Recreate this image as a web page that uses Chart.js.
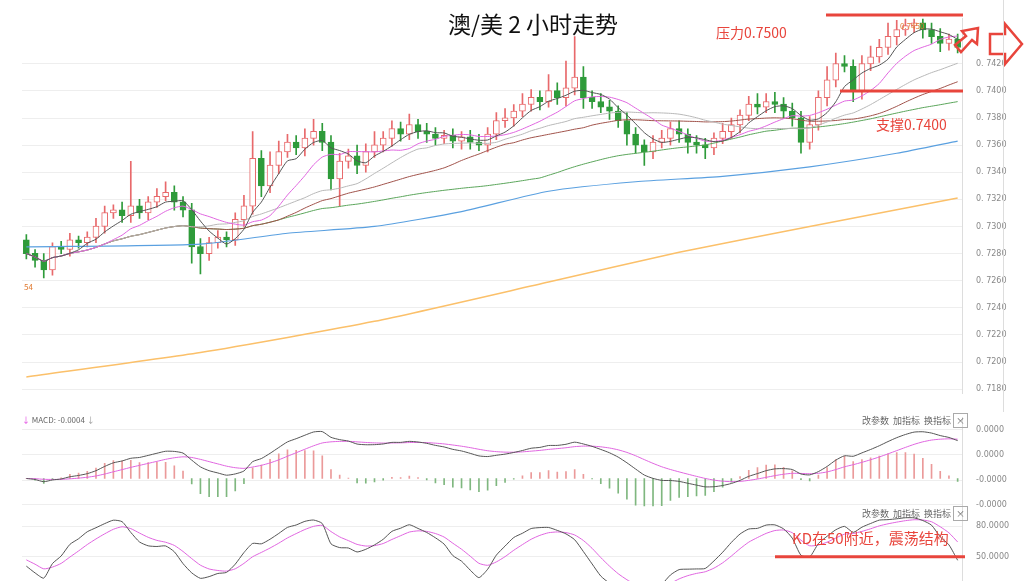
<!DOCTYPE html>
<html>
<head>
<meta charset="utf-8">
<script src="https://cdn.jsdelivr.net/npm/chart.js@4/dist/chart.umd.min.js"></script>
<style>
  body { margin: 0; background: #fff; font-family: "Noto Sans CJK SC", "Noto Sans", sans-serif; overflow: hidden; }
  .box { position: absolute; left: 0; width: 1024px; }
  #main { top: 0; height: 412px; }
  #macd { top: 399px; height: 126px; }
  #kd { top: 487px; height: 115px; }
  .t { position: absolute; white-space: nowrap; }
</style>
</head>
<body>
<div class="box" id="main"><canvas id="c1"></canvas></div>
<div class="box" id="macd"><canvas id="c2"></canvas></div>
<div class="box" id="kd"><canvas id="c3"></canvas></div>
<div class="t" style="left:448px;top:6px;font-size:23px;color:#111;">澳/美 2 小时走势</div>
<div class="t" style="left:716px;top:22px;font-size:14px;color:#e8453c;">压力0.7500</div>
<div class="t" style="left:876px;top:114px;font-size:14px;color:#e8453c;">支撑0.7400</div>
<div class="t" style="left:24px;top:281px;font-size:8px;color:#e07a30;">54</div>
<div class="t" style="left:900px;top:20px;font-size:8px;color:#e07a30;">0.7450</div>
<div class="t" style="left:22px;top:414px;font-size:8px;color:#666;"><span style="color:#e040e0">↓</span> MACD: -0.0004 <span style="color:#999">↓</span></div>
<div class="t" style="left:862px;top:414px;font-size:9px;color:#666;">改参数 &nbsp;加指标 &nbsp;换指标 <span style="border:1px solid #aaa;padding:0 2px;">×</span></div>
<div class="t" style="left:862px;top:507px;font-size:9px;color:#666;">改参数 &nbsp;加指标 &nbsp;换指标 <span style="border:1px solid #aaa;padding:0 2px;">×</span></div>
<div class="t" style="left:792px;top:527px;font-size:15px;color:#e8453c;">KD在50附近，震荡结构</div>
<script>
const closes = [
  0.7280,0.7275,0.7268,0.7285,0.7283,0.7290,0.7288,0.7292,0.7300,0.7310,0.7312,0.7308,
  0.7315,0.7310,0.7318,0.7322,0.7325,0.7318,0.7312,0.7285,0.7280,0.7288,0.7292,0.7290,
  0.7305,0.7315,0.7350,0.7330,0.7345,0.7355,0.7362,0.7358,0.7365,0.7370,0.7362,0.7335,
  0.7348,0.7352,0.7345,0.7355,0.7360,0.7365,0.7372,0.7368,0.7375,0.7370,0.7368,0.7365,
  0.7367,0.7363,0.7366,0.7362,0.7360,0.7368,0.7378,0.7380,0.7385,0.7390,0.7395,0.7392,
  0.7400,0.7395,0.7402,0.7410,0.7395,0.7392,0.7388,0.7385,0.7378,0.7368,0.7360,0.7355,
  0.7362,0.7365,0.7372,0.7368,0.7362,0.7360,0.7358,0.7365,0.7370,0.7375,0.7382,0.7390,
  0.7388,0.7392,0.7390,0.7385,0.7380,0.7362,0.7375,0.7395,0.7408,0.7420,0.7418,0.7400,
  0.7420,0.7425,0.7432,0.7440,0.7445,0.7448,0.7450,0.7445,0.7440,0.7435,0.7438,0.7432
];
const firstOpen = 0.7290;
// wick sizes in pips (0.0001)
const wickUp = [
  4,3,5,3,4,5,3,4,6,5,4,6, 33,5,4,6,8,5,4,5,6,4,5,4,
  5,8,20,6,10,8,6,5,7,9,6,5, 6,5,8,6,10,5,6,5,8,4,6,5,
  4,5,4,5,6,5,6,7,5,8,6,5, 12,6,20,30,8,5,6,5,4,6,5,4,
  5,6,5,6,4,5,5,4,6,5,4,6, 8,6,7,5,6,5,6,5,10,8,6,5,
  6,8,6,10,7,6,8,6,5,6,4,4
];
const wickDn = [
  4,5,6,4,3,5,4,3,4,5,4,5, 5,4,5,4,3,6,5,12,15,5,4,5,
  4,5,6,8,5,6,4,5,6,5,6,8, 20,5,6,5,4,5,6,5,4,5,6,5,
  4,5,6,5,4,5,4,5,6,4,5,6, 4,5,6,5,8,5,4,6,5,8,6,10,
  5,4,5,6,8,6,8,5,4,5,6,4, 5,4,6,5,6,8,5,4,6,5,4,8,
  6,5,4,5,6,4,5,6,5,6,5,4
];
const blueMA = {0:0.7285,20:0.7287,30:0.7295,40:0.7300,50:0.7311,60:0.7326,70:0.7333,80:0.7337,90:0.7344,100:0.7354,107:0.7363};
const orangeMA = {0:0.7189,20:0.7207,40:0.7230,60:0.7259,75:0.7281,90:0.7300,107:0.7321};
const mainTicks = [0.7180,0.7200,0.7220,0.7240,0.7260,0.7280,0.7300,0.7320,0.7340,0.7360,0.7380,0.7400,0.7420];
const macdTickLabels = ['0.0000','0.0000','-0.0000','-0.0000'];
const kdTicks = [50, 80];

const labels = closes.map((_, i) => i);
const opens = closes.map((c, i) => i === 0 ? firstOpen : closes[i - 1]);
const highs = closes.map((c, i) => Math.max(c, opens[i]) + wickUp[i] * 0.0001);
const lows = closes.map((c, i) => Math.min(c, opens[i]) - wickDn[i] * 0.0001);
const up = closes.map((c, i) => c >= opens[i]);

function ma(p) {
  return closes.map((_, i) => {
    const s = closes.slice(Math.max(0, i - p + 1), i + 1);
    return s.reduce((a, b) => a + b, 0) / s.length;
  });
}
function sparse(obj) { return labels.map(i => obj[i] !== undefined ? obj[i] : null); }
function ema(arr, p) {
  const k = 2 / (p + 1); let e = arr[0];
  return arr.map(v => (e = v * k + e * (1 - k)));
}
const e26 = ema(closes, 26);
const dif = ema(closes, 12).map((v, i) => v - e26[i]);
const dea = ema(dif, 9);
const hist = dif.map((v, i) => 2 * (v - dea[i]));
let K = 50, D = 50;
const kArr = [], dArr = [];
closes.forEach((c, i) => {
  const hh = Math.max(...highs.slice(Math.max(0, i - 8), i + 1));
  const ll = Math.min(...lows.slice(Math.max(0, i - 8), i + 1));
  const rsv = hh === ll ? 50 : (c - ll) / (hh - ll) * 100;
  K = (2 * K + rsv) / 3; D = (2 * D + K) / 3;
  kArr.push(K); dArr.push(D);
});

const RED = '#e8696b', GREEN = '#2e9b3a';
const line = (data, color, w) => ({ type: 'line', data, borderColor: color, borderWidth: w || 1, pointRadius: 0, tension: 0.2, spanGaps: true, order: 1 });
const yAxisFit = s => { s.width = 62; };
const xHidden = { display: false, offset: true, grid: { display: false } };
const gridStyle = { color: '#eeeeee', drawTicks: false };
const tickFont = { size: 8, family: 'DejaVu Sans' };
const baseOpts = { responsive: true, maintainAspectRatio: false, animation: false,
  layout: { padding: { left: 22, top: 0, bottom: 0 } },
  plugins: { legend: { display: false }, tooltip: { enabled: false } } };

const overlay = {
  id: 'overlay',
  afterDraw(chart) {
    const ctx = chart.ctx, y = chart.scales.y;
    ctx.save();
    ctx.strokeStyle = '#e8453c'; ctx.lineWidth = 3;
    [[826, 0.7456], [840, 0.7400]].forEach(([x0, v]) => {
      const py = y.getPixelForValue(v);
      ctx.beginPath(); ctx.moveTo(x0, py); ctx.lineTo(963, py); ctx.stroke();
    });
    ctx.lineWidth = 2.5;
    const arrow = (pts) => { ctx.beginPath(); pts.forEach((p, i) => i ? ctx.lineTo(p[0], p[1]) : ctx.moveTo(p[0], p[1])); ctx.closePath(); ctx.stroke(); };
    arrow([[955, 45], [966, 36], [962, 31], [978, 28], [977, 44], [972, 40], [961, 52]]);
    arrow([[990, 34], [1005, 34], [1005, 24], [1022, 44], [1005, 64], [1005, 54], [990, 54]]);
    ctx.strokeStyle = '#ddd'; ctx.lineWidth = 1;
    ctx.beginPath(); ctx.moveTo(1003.5, 0); ctx.lineTo(1003.5, 581); ctx.stroke();
    ctx.strokeStyle = '#e6e6e6';
    [413.5, 504.5].forEach(py => { ctx.beginPath(); ctx.moveTo(0, py); ctx.lineTo(1003, py); ctx.stroke(); });
    ctx.restore();
  }
};

new Chart(document.getElementById('c1'), {
  data: {
    labels,
    datasets: [
      line(ma(5), '#555555'), line(ma(10), '#e066e0'), line(ma(20), '#b8b8b8'),
      line(ma(30), '#a0524a'), line(ma(60), '#5aa55a'),
      line(sparse(blueMA), '#5aa0e0', 1.2), line(sparse(orangeMA), '#fbc06a', 1.5),
      { type: 'bar', data: closes.map((c, i) => [lows[i], highs[i]]), backgroundColor: up.map(u => u ? RED : GREEN),
        barThickness: 1, grouped: false, order: 3 },
      { type: 'bar', data: closes.map((c, i) => [Math.min(c, opens[i]), Math.max(c, opens[i]) + 0.00002]),
        backgroundColor: up.map(u => u ? '#ffffff' : GREEN), borderColor: up.map(u => u ? RED : GREEN),
        borderWidth: 1, borderSkipped: false, barThickness: 6, grouped: false, order: 2 }
    ]
  },
  options: { ...baseOpts,
    scales: {
      x: xHidden,
      y: { position: 'right', min: 0.71770, max: 0.74532, afterFit: yAxisFit,
        afterBuildTicks: s => { s.ticks = mainTicks.map(v => ({ value: v })); },
        grid: gridStyle, border: { color: '#ddd' },
        ticks: { color: '#888', font: tickFont, padding: 14, callback: v => v.toFixed(4).replace('0.', '0. ') } }
    }
  },
  plugins: [overlay]
});

const dMax = Math.max(...dif), dMin = Math.min(...dif), span = dMax - dMin;
const mTop = dMax + span * 0.25, mBot = dMin - span * 0.35;
const macdTickVals = [0.136, 0.42, 0.705, 0.98].map(f => mTop - f * (mTop - mBot));
new Chart(document.getElementById('c2'), {
  data: {
    labels,
    datasets: [
      line(dif, '#555555'), line(dea, '#e066e0'),
      { type: 'bar', data: hist, backgroundColor: hist.map(v => v >= 0 ? '#eb9a9a' : '#7fb77f'), barThickness: 1, order: 2 }
    ]
  },
  options: { ...baseOpts,
    scales: {
      x: xHidden,
      y: { position: 'right', min: mBot, max: mTop, afterFit: yAxisFit,
        afterBuildTicks: s => { s.ticks = macdTickVals.map(v => ({ value: v })); },
        grid: gridStyle, border: { color: '#ddd' },
        ticks: { color: '#888', font: tickFont, padding: 14, callback: (v, i) => macdTickLabels[i] } }
    }
  }
});

new Chart(document.getElementById('c3'), {
  data: { labels, datasets: [line(kArr, '#555555'), line(dArr, '#e066e0')] },
  options: { ...baseOpts,
    scales: {
      x: xHidden,
      y: { position: 'right', min: 24, max: 100, afterFit: yAxisFit,
        afterBuildTicks: s => { s.ticks = kdTicks.map(v => ({ value: v })); },
        grid: gridStyle, border: { color: '#ddd' },
        ticks: { color: '#888', font: tickFont, padding: 14, callback: v => v.toFixed(4) } }
    }
  },
  plugins: [{
    id: 'kdline',
    afterDraw(chart) {
      const ctx = chart.ctx, py = chart.scales.y.getPixelForValue(50);
      ctx.save(); ctx.strokeStyle = '#e8453c'; ctx.lineWidth = 3;
      ctx.beginPath(); ctx.moveTo(775, py); ctx.lineTo(965, py); ctx.stroke(); ctx.restore();
    }
  }]
});
</script>
</body>
</html>
